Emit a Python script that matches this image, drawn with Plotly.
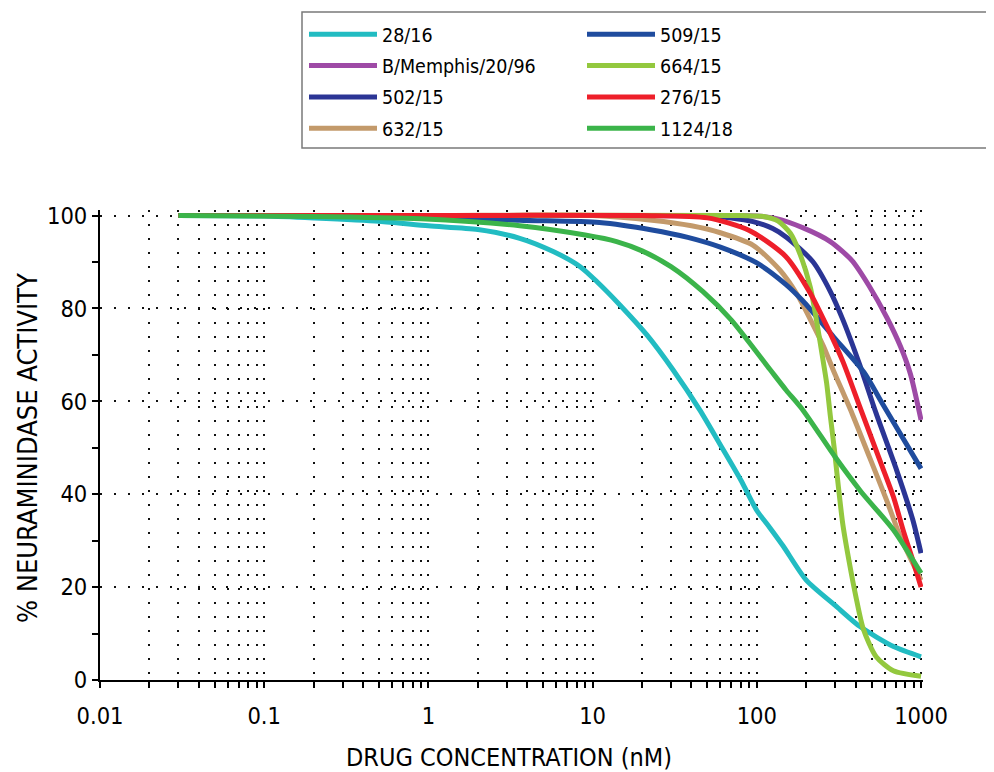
import plotly.graph_objects as go

# ---- data (x = drug concentration nM, y = % NA activity)
names = ["28/16", "B/Memphis/20/96", "502/15", "632/15",
         "509/15", "664/15", "276/15", "1124/18"]
colors = ["#22bcc2", "#9e4aa6", "#2b3595", "#c39a6b",
          "#1f4c9e", "#93c83e", "#ee1f2a", "#3bb44a"]

x_28_16 = [0.03, 0.1, 0.2, 0.5, 1, 2, 3.6, 5.8, 8.4, 10.6, 14.7, 21.4, 31, 45, 60,
           80, 100, 120, 145, 200, 306, 425, 680, 1000]
y_28_16 = [100, 99.9, 99.5, 98.8, 97.8, 97.0, 95.1, 92.2, 89.0, 85.8, 80.7, 74.3, 66.7,
           58.1, 50.6, 43.0, 36.5, 32.8, 28.8, 21.5, 15.8, 11.5, 7.2, 5.0]

x_memphis = [0.03, 1, 60, 100, 130, 190, 280, 380, 480, 620, 750, 860, 1000]
y_memphis = [100, 100, 100, 99.9, 99.4, 97.4, 94.4, 90.3, 85.0, 78.0, 71.8, 66.0, 56]

x_502_15 = [0.03, 1, 10, 50, 70, 95, 125, 152, 219, 279, 334, 424, 533, 710, 889, 1000]
y_502_15 = [100, 100, 100, 99.9, 99.5, 98.7, 97.2, 95.3, 90.1, 83.8, 77.6, 67.8, 57.4,
            45.2, 34.6, 27.3]

x_632_15 = [0.03, 1, 10, 23, 40, 60, 95, 138, 176, 212, 255, 293, 380, 484, 616, 745, 1000]
y_632_15 = [100, 100, 100, 99.0, 97.8, 96.3, 93.6, 88.3, 83.0, 77.6, 71.8, 66.6, 57.4,
            48.1, 38.8, 31, 21.5]

x_509_15 = [0.03, 1, 3.6, 11, 23, 38, 60, 100, 150, 191, 293, 450, 580, 1000]
y_509_15 = [100, 99.8, 99.0, 98.5, 96.9, 95.3, 93.2, 89.8, 85.2, 81.6, 73.9, 66.2,
            59.6, 45.5]

x_664_15 = [0.03, 1, 80, 110, 135, 160, 182, 212, 232, 250, 266, 280, 297, 313, 334, 367,
            401, 445, 533, 678, 1000]
y_664_15 = [100, 100, 100, 99.8, 98.8, 96.2, 92, 84.5, 77, 70, 64, 57, 49.5, 42, 33.5, 25,
            18, 11, 5, 2, 0.8]

x_276_15 = [0.03, 1, 20, 50, 90, 150, 210, 266, 334, 424, 557, 678, 785, 900, 1000]
y_276_15 = [100, 100, 100, 99.5, 96.8, 91.2, 83.5, 76.3, 68.6, 58.8, 47.6, 39.5, 31.8,
            25.3, 20]

x_1124_18 = [0.03, 0.2, 0.9, 3.6, 9, 14, 20, 30, 47, 70, 120, 151, 191, 300, 430, 680, 1000]
y_1124_18 = [100, 99.8, 99.3, 97.8, 95.8, 94.4, 92.4, 89.0, 83.6, 77.5, 66.9, 62.4, 58.1,
             48, 40.6, 32.3, 23]

xs = [x_28_16, x_memphis, x_502_15, x_632_15, x_509_15, x_664_15, x_276_15, x_1124_18]
ys = [y_28_16, y_memphis, y_502_15, y_632_15, y_509_15, y_664_15, y_276_15, y_1124_18]

x_tick_vals = [0.01, 0.1, 1, 10, 100, 1000]
x_tick_text = ["0.01", "0.1", "1", "10", "100", "1000"]
y_tick_vals = [0, 20, 40, 60, 80, 100]
y_minor_vals = [10, 30, 50, 70, 90]
x_minor_vals = [m * d for d in [0.01, 0.1, 1, 10, 100] for m in range(2, 10)]

FONT = "DejaVu Sans Condensed, DejaVu Sans, sans-serif"
GRID_DASH = "2px,12px"

# figure geometry (page has an 8px body margin)
OFF = 8
FW, FH = 986, 764
L, T, W, H = 92, 202, 823, 470


def px_x(sx):  # screen x -> paper x
    return (sx - OFF - L) / W


def px_y(sy):  # screen y -> paper y
    return (T + H - (sy - OFF)) / H


fig = go.Figure()
for i, (n, c, x, y) in enumerate(zip(names, colors, xs, ys)):
    fig.add_trace(go.Scatter(
        x=x, y=y, name=n, mode="lines",
        line=dict(color=c, width=5, shape="spline", smoothing=0.7),
        legend="legend" if i < 4 else "legend2",
        legendgroup=n,
    ))

legend_common = dict(
    bgcolor="rgba(0,0,0,0)", borderwidth=0,
    font=dict(family=FONT, size=19.5, color="black"),
    xref="container", yref="container", xanchor="left", yanchor="top",
    itemwidth=68, tracegroupgap=3, itemclick=False, itemdoubleclick=False,
)
fig.update_layout(
    width=FW, height=FH,
    margin=dict(l=L, r=FW - L - W, t=T, b=FH - T - H, autoexpand=False),
    paper_bgcolor="white", plot_bgcolor="white",
    font=dict(family=FONT, color="black"),
    legend=dict(**legend_common, x=296 / FW, y=1 - 7 / FH),
    legend2=dict(**legend_common, x=574 / FW, y=1 - 7 / FH),
    xaxis=dict(
        type="log", range=[-2, 3.012],
        tickmode="array", tickvals=x_tick_vals, ticktext=x_tick_text,
        ticks="outside", ticklen=6, tickwidth=2, tickcolor="black",
        ticklabelstandoff=8,
        showline=True, linewidth=2, linecolor="black",
        showgrid=True, gridcolor="#111", gridwidth=2, griddash=GRID_DASH,
        zeroline=False, automargin=False,
        tickfont=dict(family=FONT, size=23.5),
        minor=dict(tickmode="array", tickvals=x_minor_vals, ticks="outside",
                   ticklen=6, tickwidth=2, tickcolor="black",
                   showgrid=True, gridcolor="#111", gridwidth=2, griddash=GRID_DASH),
    ),
    yaxis=dict(
        range=[0, 101.2],
        tickmode="array", tickvals=y_tick_vals,
        ticks="outside", ticklen=6, tickwidth=2, tickcolor="black",
        showline=True, linewidth=2, linecolor="black",
        showgrid=True, gridcolor="#111", gridwidth=2, griddash=GRID_DASH,
        zeroline=False, automargin=False,
        tickfont=dict(family=FONT, size=23.5),
        minor=dict(tickmode="array", tickvals=y_minor_vals, ticks="outside",
                   ticklen=6, tickwidth=2, tickcolor="black", showgrid=False),
    ),
    annotations=[
        dict(text="DRUG CONCENTRATION (nM)", xref="paper", yref="paper",
             x=px_x(509), y=px_y(757), xanchor="center", yanchor="middle",
             showarrow=False, font=dict(family=FONT, size=25, color="black")),
        dict(text="% NEURAMINIDASE ACTIVITY", xref="paper", yref="paper",
             x=px_x(27), y=px_y(448), xanchor="center", yanchor="middle",
             textangle=-90, showarrow=False, borderpad=0,
             font=dict(family=FONT, size=27, color="black")),
    ],
    shapes=[dict(type="rect", xref="paper", yref="paper",
                 x0=px_x(302), x1=px_x(1010),
                 y0=px_y(148), y1=px_y(12),
                 line=dict(color="#7a7a7a", width=1.5), fillcolor="rgba(0,0,0,0)",
                 layer="below")],
)

fig.write_html("out.html")
